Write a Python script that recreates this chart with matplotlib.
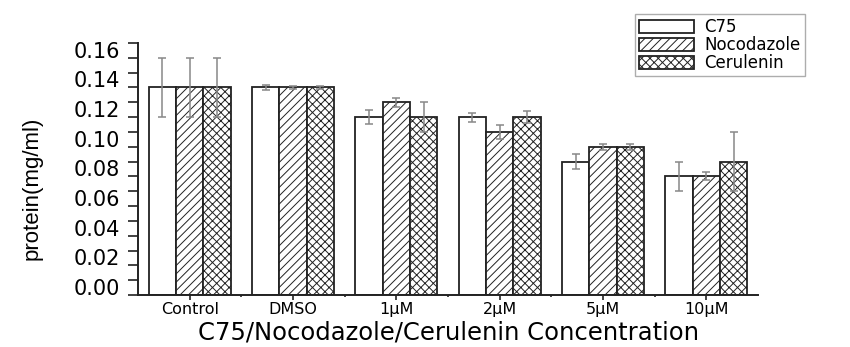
import numpy as np
import matplotlib
matplotlib.use('Agg')
import matplotlib.pyplot as plt
from matplotlib import font_manager
from matplotlib.transforms import ScaledTranslation
from matplotlib.ticker import MultipleLocator

# veriler
gruplar = ['Control', 'DMSO', '1μM', '2μM', '5μM', '10μM']
seriler = ['C75', 'Nocodazole', 'Cerulenin']
c75 = [0.14, 0.14, 0.12, 0.12, 0.09, 0.08]
c75_err = [0.02, 0.0015, 0.0045, 0.003, 0.005, 0.01]
noc = [0.14, 0.14, 0.13, 0.11, 0.10, 0.08]
noc_err = [0.02, 0.0012, 0.003, 0.005, 0.002, 0.0027]
cer = [0.14, 0.14, 0.12, 0.12, 0.10, 0.09]
cer_err = [0.02, 0.0012, 0.01, 0.004, 0.002, 0.02]

fontlar = {f.name for f in font_manager.fontManager.ttflist}
dar_font = 'Liberation Sans Narrow' if 'Liberation Sans Narrow' in fontlar else 'Liberation Sans'

plt.rcParams['font.family'] = 'DejaVu Sans'
plt.rcParams['hatch.color'] = '#555555'
plt.rcParams['hatch.linewidth'] = 0.7

fig = plt.figure(figsize=(8.5, 3.47), dpi=100)
ax = fig.add_axes([138 / 850, 1 - 295 / 347, 620 / 850, 252 / 347])

x = np.arange(len(gruplar))
w = 0.265
desenler = ['', '////', 'xxxx']
degerler = [c75, noc, cer]
hatalar = [c75_err, noc_err, cer_err]
for i in range(3):
    ax.bar(x + (i - 1) * w, degerler[i], w, color='white', edgecolor='#222222',
           linewidth=1.3, hatch=desenler[i], label=seriler[i],
           yerr=hatalar[i], ecolor='#888888', capsize=2.8,
           error_kw={'elinewidth': 1.1, 'capthick': 1.1})

ax.set_xlim(-0.5, 5.5)
ax.set_ylim(0, 0.17)
ax.spines['top'].set_visible(False)
ax.spines['right'].set_visible(False)
for s in ['left', 'bottom']:
    ax.spines[s].set_linewidth(1.4)
    ax.spines[s].set_color('#222222')

ax.set_yticks(np.arange(0, 0.161, 0.02))
ax.yaxis.set_minor_locator(MultipleLocator(0.01))
ax.set_yticklabels(['%.2f' % v for v in np.arange(0, 0.161, 0.02)])
ax.tick_params(axis='y', which='both', direction='out', length=7, width=1.2,
               color='#222222', labelsize=15, pad=6)
ax.set_xticks(x)
ax.set_xticklabels(gruplar)
ax.set_xticks(x[:-1] + 0.5, minor=True)
ax.tick_params(axis='x', which='major', direction='out', length=3.5, width=1.2,
               color='#222222', labelsize=11.5, pad=1.5)
ax.tick_params(axis='x', which='minor', direction='out', length=1.5, width=1.2,
               color='#222222')

# y etiketleri biraz yukarıda duruyor
kaydir = ScaledTranslation(0, 0.08, fig.dpi_scale_trans)
for lbl in ax.get_yticklabels():
    lbl.set_transform(lbl.get_transform() + kaydir)

fig.text(448 / 850, 1 - 340 / 347, 'C75/Nocodazole/Cerulenin Concentration',
         ha='center', va='baseline', fontsize=17.5)
fig.text(32 / 850, 1 - 188 / 347, 'protein(mg/ml)', rotation=90, ha='center',
         va='center', fontsize=16, family=dar_font)

leg = fig.legend(loc='upper left', bbox_to_anchor=(635 / 850, 1 - 14 / 347),
                 fontsize=12, frameon=True, fancybox=False, handlelength=3.3,
                 handleheight=0.8, handletextpad=0.6, labelspacing=0.0,
                 borderpad=0.25, borderaxespad=0)
leg.get_frame().set_edgecolor('#999999')
leg.get_frame().set_linewidth(1.0)

fig.savefig('out.png', dpi=100)
